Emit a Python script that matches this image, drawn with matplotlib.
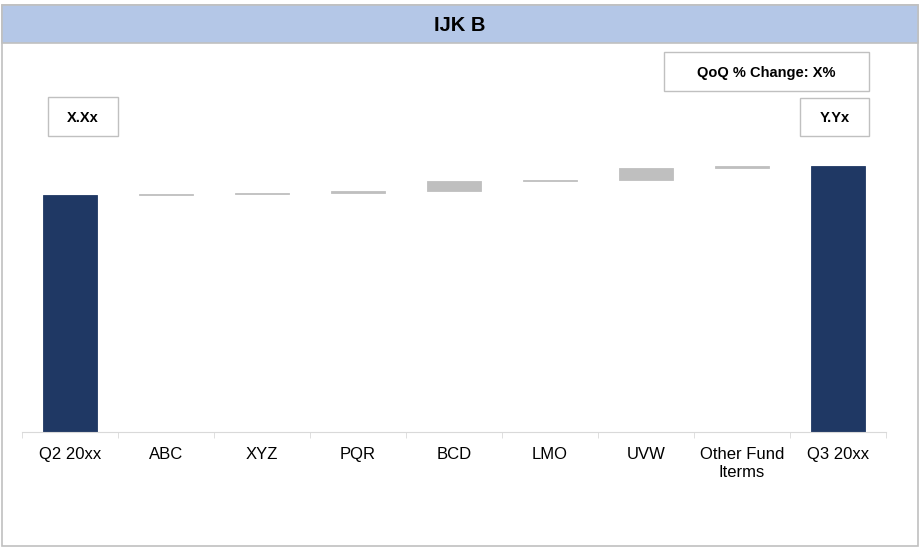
import matplotlib.pyplot as plt
from matplotlib.patches import Rectangle
import numpy as np

plt.rcParams['font.family'] = ['Liberation Sans', 'DejaVu Sans']

# 瀑布图数据
categories = ['Q2 20xx', 'ABC', 'XYZ', 'PQR', 'BCD', 'LMO', 'UVW', 'Other Fund\nIterms', 'Q3 20xx']
start_value = 100.0
deltas = [0.4, 0.3, 1.0, 4.0, 0.6, 5.3, 0.7]
title = 'IJK B'
start_label = 'X.Xx'
end_label = 'Y.Yx'
change_label = 'QoQ % Change: X%'

navy = '#1f3864'
grey = '#bfbfbf'
frame = '#c0c0c0'

W, H = 923, 548
fig = plt.figure(figsize=(W / 100, H / 100), dpi=100)

def px(x0, y0, x1, y1):
    # 像素坐标 -> figure 坐标 (left, bottom, width, height)
    return [x0 / W, 1 - y1 / H, (x1 - x0) / W, (y1 - y0) / H]

# 外框和标题栏
fig.patches.append(Rectangle((2 / W, 1 - 546 / H), 916 / W, 541 / H, transform=fig.transFigure,
                             facecolor='white', edgecolor=frame, lw=1.2, zorder=0))
l, b, w, h = px(2, 5, 918, 43)
fig.patches.append(Rectangle((l, b), w, h, transform=fig.transFigure,
                             facecolor='#b4c7e7', edgecolor=frame, lw=1.2, zorder=1))
fig.text(l + w / 2, 1 - 31 / H, title, ha='center', va='baseline', fontsize=14.5, fontweight='bold')

# 主图区域
ax = fig.add_axes(px(22, 60, 886, 432))
ax.set_facecolor('none')
ax.set_zorder(5)

x = np.arange(len(categories))
cum = start_value + np.cumsum(deltas)
bottoms = np.concatenate([[0], cum - np.array(deltas), [0]])
heights = np.concatenate([[start_value], deltas, [cum[-1]]])
colors = [navy] + [grey] * len(deltas) + [navy]

ax.bar(x, heights, bottom=bottoms, width=0.56, color=colors, edgecolor=colors, linewidth=0.6)

ax.set_xlim(-0.5, len(categories) - 0.5)
ax.set_ylim(0, 372 / 2.37)
for s in ['top', 'right', 'left']:
    ax.spines[s].set_visible(False)
ax.spines['bottom'].set_color('#d9d9d9')
ax.set_yticks([])
ax.set_xticks(x)
ax.set_xticklabels(categories, fontsize=12, linespacing=1.25)
ax.tick_params(axis='x', which='major', length=0, pad=11)
ax.set_xticks(np.arange(-0.5, len(categories)), minor=True)
ax.tick_params(axis='x', which='minor', length=4, color='#d9d9d9')

# 数值标注框
def label_box(x0, y0, x1, y1, text):
    l, b, w, h = px(x0, y0, x1, y1)
    fig.patches.append(Rectangle((l, b), w, h, transform=fig.transFigure,
                                 facecolor='white', edgecolor=frame, lw=1.0, zorder=2))
    fig.text(l + w / 2, 1 - (y0 + y1) / 2 / H, text, ha='center', va='center_baseline',
             fontsize=10.5, fontweight='bold', zorder=3)

label_box(48, 97, 118, 136, start_label)
label_box(800, 98, 869, 136, end_label)
label_box(664, 52, 869, 91, change_label)

plt.savefig('out.png', dpi=100)
plt.close()
